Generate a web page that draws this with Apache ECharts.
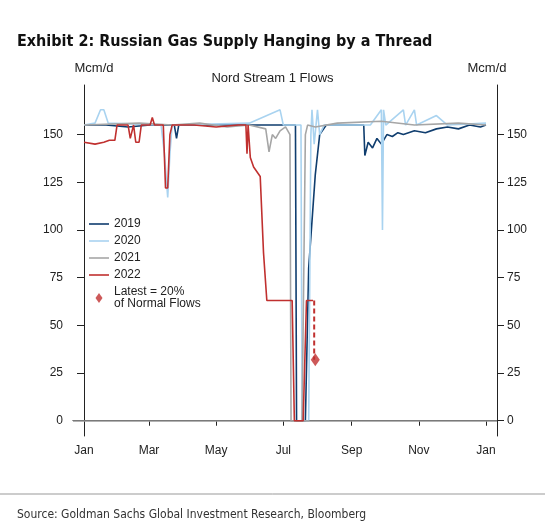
<!DOCTYPE html><html><head><meta charset="utf-8">
<script src="https://cdn.jsdelivr.net/npm/echarts@6/dist/echarts.min.js"></script>
<style>html,body{margin:0;padding:0;background:#fff}#c{width:545px;height:526px}</style></head><body><div id="c"></div>
<script>
const monthTicks=[0,59,120,181,243,304,365];
const monthLabels=['Jan','Mar','May','Jul','Sep','Nov','Jan'];
const yTicks=[0,25,50,75,100,125,150];
const s2019=[[0,155],[20,155],[40,154],[60,155],[82,155],[84,148],[86,155],[120,155],[150,155],[175,155],[192,155],[193,0],[201,0],[204,80],[210,129],[214,150],[220,155],[254,155],[255,139],[258,146],[262,143],[266,148],[270,145],[275,150],[280,149],[285,151],[290,150],[300,152],[310,151],[320,153],[330,154],[340,153],[350,155],[360,154],[365,155]];
const s2020=[[0,155],[10,156],[15,163],[18,163],[22,156],[70,155],[73,140],[76,117],[78,140],[80,155],[150,156],[178,163],[181,155],[197,155],[198,0],[204,0],[206,150],[207,163],[209,145],[212,163],[214,150],[218,155],[260,155],[270,163],[271,100],[272,163],[274,155],[290,163],[292,155],[300,163],[302,155],[320,160],[330,155],[365,156]];
const s2021=[[0,155],[50,156],[80,155],[105,156],[130,154],[150,155],[165,153],[168,141],[171,150],[174,148],[178,152],[183,154],[187,150],[188,0],[198,0],[201,150],[203,155],[210,154],[230,156],[270,157],[300,155],[340,156],[365,155]];
const s2022=[[0,146],[10,145],[18,146],[23,147],[28,147],[30,155],[40,155],[42,148],[45,155],[47,146],[50,146],[52,155],[60,155],[62,159],[64,155],[72,155],[74,122],[76,122],[78,150],[80,155],[100,155],[120,154],[140,155],[147,155],[148,140],[149,155],[151,138],[154,133],[160,128],[163,88],[166,63],[189,63],[190,62],[191,0],[199,0],[202,63],[208,63]];
const latestLine=[[209,63],[209,32]];
const latest=[[210,32]];
const F='Liberation Sans';
const TF="'Liberation Sans Narrow','DejaVu Sans Condensed','Liberation Sans',sans-serif";
const LINE='path://M0,0 M0,4.2 L20,4.2 L20,5.8 L0,5.8 Z M20,10';
const DIA='path://M0,0 M10,0 L13.5,5 L10,10 L6.5,5 Z M20,10';
const ch=echarts.init(document.getElementById('c'));
const ln=(n,d,c,z)=>({name:n,type:'line',data:d,showSymbol:false,symbol:'none',z:z,lineStyle:{color:c,width:1.6},itemStyle:{color:c}});
ch.setOption({
 animation:false,
 textStyle:{fontFamily:F},
 title:[{text:'Exhibit 2: Russian Gas Supply Hanging by a Thread',left:12,top:29,textStyle:{fontFamily:TF,fontWeight:'bold',fontSize:16,color:'#111'}},
  {text:'Source: Goldman Sachs Global Investment Research, Bloomberg',left:12,top:504,textStyle:{fontFamily:TF,fontWeight:'normal',fontSize:12,color:'#333'}},
  {text:'Nord Stream 1 Flows',left:'center',top:67,textStyle:{fontFamily:F,fontWeight:'normal',fontSize:13,color:'#222'}}],
 graphic:[{type:'line',shape:{x1:0,y1:494,x2:545,y2:494},style:{stroke:'#999',lineWidth:1}}],
 grid:{left:73,right:48,top:85,bottom:90,outerBoundsMode:'none',containLabel:false},
 legend:{orient:'vertical',left:84,top:213,itemWidth:20,itemHeight:10,itemGap:5,textStyle:{fontSize:12,color:'#222'},
  data:[{name:'2019',icon:LINE},{name:'2020',icon:LINE},{name:'2021',icon:LINE},{name:'2022',icon:LINE},{name:'Latest = 20%\nof Normal Flows',icon:DIA}]},
 xAxis:{type:'value',min:-10,max:375,splitLine:{show:false},
  axisLine:{show:true,lineStyle:{color:'#222'}},
  axisTick:{show:true,customValues:monthTicks,length:5,lineStyle:{color:'#222'}},
  axisLabel:{customValues:monthTicks,formatter:v=>monthLabels[monthTicks.indexOf(v)],fontSize:12,color:'#222',margin:9}},
 yAxis:[{type:'value',min:-8,max:176,name:'Mcm/d',nameGap:10,nameTextStyle:{fontSize:13,color:'#222',align:'center',padding:[0,0,0,20]},splitLine:{show:false},
  axisLine:{show:true,lineStyle:{color:'#222'}},axisTick:{show:true,customValues:yTicks,length:7,lineStyle:{color:'#222'}},
  axisLabel:{customValues:yTicks,fontSize:12,color:'#222',margin:10}},
  {type:'value',position:'right',min:-8,max:176,name:'Mcm/d',nameGap:10,nameTextStyle:{fontSize:13,color:'#222',align:'center',padding:[0,20,0,0]},splitLine:{show:false},
  axisLine:{show:true,lineStyle:{color:'#222'}},axisTick:{show:true,customValues:yTicks,length:7,lineStyle:{color:'#222'}},
  axisLabel:{customValues:yTicks,fontSize:12,color:'#222',margin:10}}],
 series:[
  Object.assign(ln('2019',s2019,'#0f3d6e',2),{markLine:{silent:true,symbol:'none',label:{show:false},lineStyle:{color:'#999',type:'solid',width:1.5},data:[{yAxis:0}]}}),
  ln('2020',s2020,'#a9d3f0',3),
  ln('2021',s2021,'#a6a6a6',4),
  ln('2022',s2022,'#c0302f',5),
  {name:'latestLine',type:'line',data:latestLine,symbol:'none',z:5,lineStyle:{color:'#c0302f',width:2,type:[5,3]}},
  {name:'Latest = 20%\nof Normal Flows',type:'scatter',data:latest,symbol:'diamond',symbolSize:[9,13],z:6,itemStyle:{color:'#c0302f'}}
 ]
});
</script></body></html>
